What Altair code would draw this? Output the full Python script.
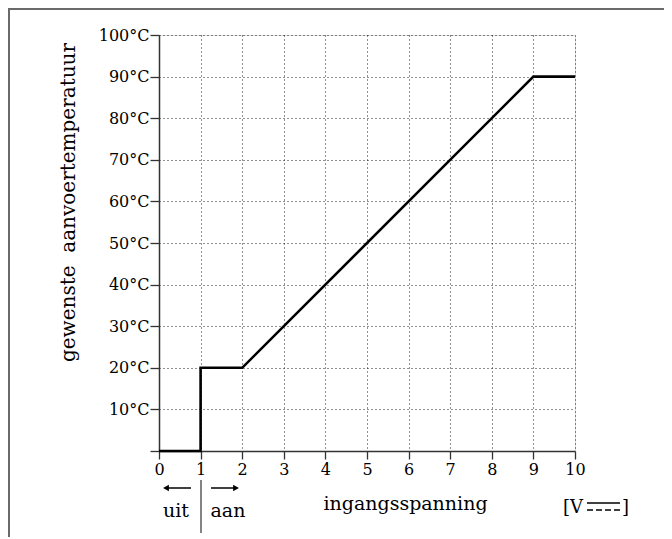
import altair as alt
import pandas as pd

# Data
voltage = [0, 1, 1, 2, 9, 10]
temperature = [0, 0, 20, 20, 90, 90]
x_ticks = list(range(0, 11))
y_ticks = list(range(0, 101, 10))

FONT = "DejaVu Serif"
W, H = 416, 416

df = pd.DataFrame({"v": voltage, "t": temperature, "o": list(range(len(voltage)))})

x_scale = alt.Scale(domain=[0, 10], nice=False, zero=False)
y_scale = alt.Scale(domain=[0, 100], nice=False, zero=False)

line = alt.Chart(df).mark_line(color="black", strokeWidth=2.6, strokeJoin="miter").encode(
    x=alt.X("v:Q", scale=x_scale,
            axis=alt.Axis(values=x_ticks, title="ingangsspanning", format="d",
                          grid=True, gridDash=[1, 3], gridColor="#222", gridWidth=1,
                          domainColor="#333", domainWidth=1.5, tickColor="#333", tickWidth=1.3,
                          tickSize=8, labelFont=FONT, labelFontSize=16, labelColor="black",
                          labelPadding=2, labelFlush=False,
                          titleFont=FONT, titleFontSize=19, titleFontWeight="normal",
                          titleColor="black", titleX=246, titleY=58, titleAlign="center",
                          titleBaseline="alphabetic")),
    y=alt.Y("t:Q", scale=y_scale,
            axis=alt.Axis(values=y_ticks, title="gewenste\u00a0\u00a0aanvoertemperatuur",
                          labelExpr="datum.value == 0 ? '' : datum.value + '°C'",
                          grid=True, gridDash=[1, 3], gridColor="#222", gridWidth=1,
                          domainColor="#333", domainWidth=1.5, tickColor="#333", tickWidth=1.3,
                          tickSize=9, labelFont=FONT, labelFontSize=16, labelColor="black",
                          labelPadding=1, labelFlush=False,
                          titleFont=FONT, titleFontSize=20, titleFontWeight="normal",
                          titleColor="black", titleAngle=270, titleX=-91, titleY=167,
                          titleAlign="center", titleBaseline="middle")),
    order="o:Q",
)

def txt(s, x, y, align="center", size=19):
    return alt.Chart(pd.DataFrame({"s": [s]})).mark_text(
        font=FONT, fontSize=size, color="black", align=align, baseline="alphabetic"
    ).encode(text="s:N", x=alt.value(x), y=alt.value(y))

def rule(x1, y1, x2, y2, color="black", width=1.5, dash=None):
    kw = dict(color=color, strokeWidth=width)
    if dash:
        kw["strokeDash"] = dash
    return alt.Chart(pd.DataFrame({"a": [0]})).mark_rule(**kw).encode(
        x=alt.value(x1), y=alt.value(y1), x2=alt.value(x2), y2=alt.value(y2))

def head(x, y, shape):
    return alt.Chart(pd.DataFrame({"a": [0]})).mark_point(
        shape=shape, filled=True, color="black", size=45, opacity=1
    ).encode(x=alt.value(x), y=alt.value(y))

layers = [
    line,
    # frame
    rule(-150, -26, 540, -26, color="#6a6a6a", width=2),
    rule(-150, -27, -150, 520, color="#6a6a6a", width=2),
    # uit / aan annotation
    rule(42, 445, 42, 498, color="#333", width=1.2),
    rule(8, 453, 32, 453, width=1.5),
    head(7, 453, "triangle-left"),
    rule(52, 453, 76, 453, width=1.5),
    head(77, 453, "triangle-right"),
    txt("uit", 17, 482),
    txt("aan", 69, 482),
    # unit [V DC]
    txt("[V", 404, 478, align="left", size=18),
    txt("]", 463, 478, align="left", size=18),
    rule(428, 468, 461, 468, width=1.5),
    rule(428, 475, 461, 475, width=1.5, dash=[6, 3]),
]

chart = alt.layer(*layers).properties(
    width=W, height=H,
    autosize=alt.AutoSizeParams(type="none"),
    padding={"left": 151, "top": 27, "right": 89, "bottom": 86},
).configure_view(stroke=None).configure(background="white")

chart.save("out.html", embed_options={"renderer": "svg", "actions": False})
